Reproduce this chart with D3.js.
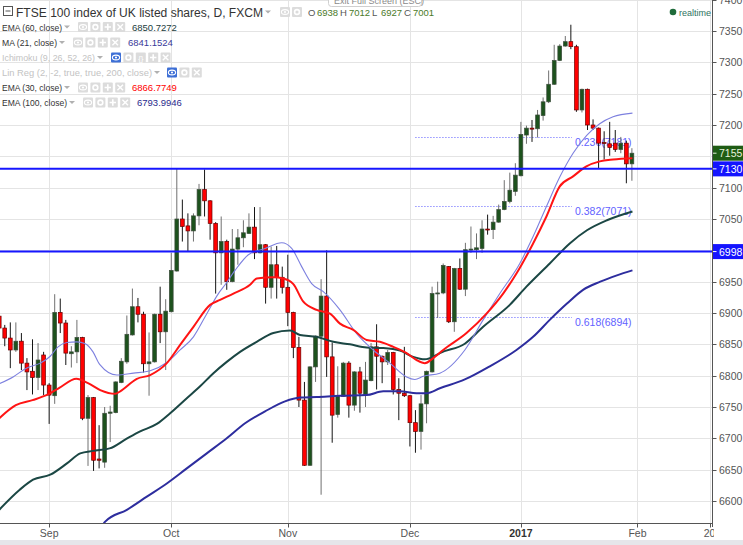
<!DOCTYPE html>
<html>
<head>
<meta charset="utf-8">
<script src="https://cdnjs.cloudflare.com/ajax/libs/d3/7.8.5/d3.min.js"></script>
<style>
  body { margin: 0; background: #fff; }
  svg { display: block; }
  text { font-family: "Liberation Sans", Arial, sans-serif; }
</style>
</head>
<body>
<svg id="chart"></svg>
<script>
// daily candles, FXCM FTSE 100, late Aug 2016 .. 31 Jan 2017 (index 0..114)
var opens = [6895,6876,6860,6841,6855,6820,6807,6797,6833,6785,6768,6901,6884,6835,6838,6861,6732,6765,6667,6662,
  6740,6741,6789,6822,6865,6910,6898,6819,6822,6898,6870,6902,6967,7050,7039,7031,7055,7097,7079,7043,
  6996,7014,6950,7002,7020,7027,7037,6996,7009,6941,6977,6957,6941,6901,6845,6761,6657,6814,6863,6927,
  6830,6738,6767,6820,6753,6806,6770,6792,6846,6831,6822,6837,6778,6772,6768,6725,6711,6755,6806,6931,
  6932,6974,6886,6971,6938,7001,7001,7003,7034,7033,7045,7065,7078,7094,7119,7184,7195,7194,7215,7237,
  7265,7303,7326,7333,7325,7224,7257,7200,7195,7172,7170,7171,7161,7171,7138];
var highs = [6902,6881,6885,6885,6868,6828,6858,6852,6838,6788,6930,6923,6889,6847,6889,6862,6769,6766,6721,6750,
  6752,6791,6828,6896,6939,6924,6902,6869,6899,6942,6922,6996,7131,7081,7059,7059,7106,7129,7080,7045,
  7054,7017,7034,7034,7048,7059,7069,7069,7010,7006,7007,6974,6993,6902,6862,6790,6815,6864,6954,7000,
  6853,6815,6822,6823,6807,6814,6822,6852,6882,6832,6841,6838,6796,6846,6769,6745,6769,6808,6942,6950,
  6979,6975,6972,6987,7012,7038,7027,7048,7057,7055,7073,7112,7124,7139,7205,7199,7208,7224,7244,7287,
  7328,7329,7342,7360,7328,7258,7258,7209,7196,7190,7205,7192,7181,7175,7163];
var lows = [6868,6847,6812,6838,6809,6777,6770,6777,6769,6723,6755,6868,6817,6813,6820,6729,6656,6648,6652,6653,
  6694,6740,6788,6819,6864,6885,6805,6768,6821,6852,6809,6901,6966,7014,6999,7014,7040,7054,7017,6931,
  6945,6937,6949,6977,7005,7026,6986,6995,6915,6923,6923,6931,6879,6828,6750,6656,6656,6790,6610,6798,
  6693,6733,6766,6733,6744,6741,6750,6791,6778,6788,6817,6770,6729,6766,6687,6677,6682,6724,6805,6892,
  6930,6884,6870,6937,6927,6996,6986,6996,7025,7018,7044,7064,7075,7087,7118,7170,7173,7180,7207,7235,
  7264,7302,7325,7321,7221,7220,7192,7192,7131,7145,7151,7157,7155,7107,7111];
var closes = [6876,6860,6841,6855,6820,6806,6797,6825,6785,6769,6901,6884,6836,6838,6861,6732,6765,6665,6665,6740,
  6742,6790,6823,6866,6910,6898,6819,6822,6898,6870,6903,6968,7050,7038,7031,7055,7097,7079,7043,6996,
  7014,6950,7002,7020,7028,7037,6996,7009,6941,6977,6957,6941,6901,6845,6761,6657,6814,6863,6927,6830,
  6737,6768,6820,6753,6806,6772,6793,6846,6831,6822,6837,6778,6772,6768,6725,6711,6755,6807,6931,6932,
  6976,6886,6971,6938,7001,7002,7004,7034,7033,7045,7065,7078,7096,7120,7185,7195,7194,7216,7237,7265,
  7303,7326,7333,7325,7224,7257,7200,7195,7171,7171,7164,7161,7171,7138,7155];

// indicator lines: [bar index, value]
var ema30Pts = [[0,6732],[3,6753],[6,6761],[8.8,6770],[10.9,6781],[13.9,6795],[16,6788],[18.2,6777],[20.9,6771],[21.8,6775],
  [24.8,6795],[27.2,6801],[30.2,6820],[32.6,6849],[35,6878],[38,6913],[39.8,6921],[42.2,6931],[45.2,6945],[46.4,6955],
  [49.4,6957],[51.2,6955],[53,6946],[54.8,6918],[57.2,6905],[59.6,6899],[61.4,6883],[63.8,6873],[66.2,6857],[68.6,6854],
  [71,6846],[73.4,6836],[75.2,6825],[76.7,6820],[78.2,6828],[80,6841],[84.2,6868],[87.8,6899],[90.8,6931],[93.2,6963],
  [96.2,7011],[98.6,7054],[101,7102],[103.4,7118],[105.8,7134],[108.2,7142],[110.6,7145],[114.1,7147]];
var ma21Pts = [[0,6787],[2.5,6798],[4.9,6812],[7.4,6820],[9.2,6831],[10.6,6846],[12.2,6853],[14,6854],[15.5,6851],[16.9,6838],
  [18.1,6818],[21.2,6801],[24.2,6804],[27.2,6808],[30.2,6821],[32.6,6841],[35,6862],[37.1,6894],[39.5,6931],[40.7,6945],
  [42.5,6968],[44.9,6993],[47.9,7003],[50.9,7012],[52.7,7003],[54.5,6974],[56.3,6947],[58.4,6934],[61.4,6905],[64.4,6867],
  [67.4,6841],[70.4,6820],[73.4,6798],[74.9,6794],[76.4,6799],[79.4,6804],[83.9,6841],[87.2,6889],[90.2,6931],[93.8,6979],
  [96.2,7022],[98.6,7070],[101,7117],[103.4,7155],[105.9,7184],[108.2,7202],[110.6,7213],[114.1,7219]];
var ema60Pts = [[0,6586],[3.7,6618],[6.1,6634],[9.2,6642],[12.2,6660],[14.6,6676],[16.9,6680],[19.9,6684],[22.9,6699],[25.4,6711],
  [28.4,6723],[30.8,6740],[33.8,6764],[36.2,6783],[38.6,6804],[41,6822],[43.4,6838],[46.4,6854],[49.4,6868],[52.4,6872],
  [54.2,6865],[57.2,6862],[60.2,6854],[63.2,6850],[66.2,6845],[69.2,6844],[72.2,6840],[74.6,6830],[76.7,6826],[78.2,6830],
  [79.4,6836],[83.9,6851],[87.2,6878],[92,6913],[95,6942],[99.2,6979],[102.8,7011],[105.9,7032],[109.5,7048],[114.1,7062]];
var ema100Pts = [[18.5,6560],[19.1,6567],[23,6586],[26.6,6607],[30.2,6628],[33.8,6652],[37.4,6676],[41,6700],[44.3,6724],[47.9,6743],
  [51.5,6759],[54.2,6765],[57.2,6766],[61.4,6768],[66.2,6769],[69.2,6775],[72.2,6775],[75.2,6772],[77,6772],[79.4,6780],
  [83.9,6794],[88.4,6815],[93.2,6841],[96.2,6862],[99.2,6889],[102.3,6915],[105.2,6937],[108.3,6950],[111.3,6960],[114.1,6968]];

var keyLevels = [7130, 6998];
var fibLevels = [7181, 7071, 6894];
var fibLabels = ["0.236(7181)", "0.382(7071)", "0.618(6894)"];
var fibFrom = 75, fibTo = 103.2;
var lastPrice = 7155;

var priceTicks = d3.range(6600, 7401, 50);
var monthLabels = ["Sep", "Oct", "Nov", "Dec", "2017", "Feb", "20"];
var monthIdx = [9, 31, 52, 74, 94, 115, 128];

var legendNames = ["EMA (60, close)", "MA (21, close)", "Ichimoku (9, 26, 52, 26)", "Lin Reg (2, -2, true, true, 200, close)", "EMA (30, close)", "EMA (100, close)"];
var legendValues = ["6850.7272", "6841.1524", "", "", "6866.7749", "6793.9946"];
var ohlcLabels = ["O", "H", "L", "C"];
var ohlcValues = ["6938", "7012", "6927", "7001"];

var width = 743, height = 545;
var plotW = 712, plotB = 523;

var svg = d3.select("#chart").attr("width", width).attr("height", height);
svg.append("rect").attr("width", width).attr("height", height).attr("fill", "#fff");

var x = d3.scaleLinear().domain([0, 128]).range([-0.8, -0.8 + 5.55 * 128]);
var y = d3.scaleLinear().domain([6600, 7350]).range([501, 31]);

svg.append("clipPath").attr("id", "plotClip")
    .append("rect").attr("width", plotW).attr("height", plotB);
svg.append("clipPath").attr("id", "axisClip")
    .append("rect").attr("width", 714).attr("height", height);

var plot = svg.append("g").attr("clip-path", "url(#plotClip)");

// grid
plot.selectAll("line.hgrid").data(priceTicks).enter().append("line")
    .attr("x1", 0).attr("x2", plotW)
    .attr("y1", d => Math.round(y(d)) + 0.5).attr("y2", d => Math.round(y(d)) + 0.5)
    .attr("stroke", "#e4e4e4");
plot.selectAll("line.vgrid").data(monthIdx).enter().append("line")
    .attr("x1", d => Math.round(x(d)) + 0.5).attr("x2", d => Math.round(x(d)) + 0.5)
    .attr("y1", 0).attr("y2", plotB)
    .attr("stroke", "#e4e4e4");

// fib levels
plot.selectAll("line.fib").data(fibLevels).enter().append("line")
    .attr("x1", x(fibFrom)).attr("x2", x(fibTo))
    .attr("y1", d => Math.round(y(d)) + 0.5).attr("y2", d => Math.round(y(d)) + 0.5)
    .attr("stroke", "#5a5aff").attr("stroke-dasharray", "1,2");
plot.selectAll("text.fib").data(fibLevels).enter().append("text")
    .attr("x", x(fibTo) + 3).attr("y", d => y(d) + 9)
    .attr("font-size", "10.5px").attr("fill", "#6262ff")
    .text((d, i) => fibLabels[i]);

// candles
var candles = opens.map(function (o, i) {
    return { i: i, o: o, h: highs[i], l: lows[i], c: closes[i], up: closes[i] >= o };
});
var cg = plot.append("g");
cg.selectAll("line.wick").data(candles).enter().append("line")
    .attr("x1", d => x(d.i)).attr("x2", d => x(d.i))
    .attr("y1", d => y(d.h)).attr("y2", d => y(d.l))
    .attr("stroke", d => d.up ? "#707070" : "#151515").attr("stroke-width", 1);
cg.selectAll("rect.body").data(candles).enter().append("rect")
    .attr("x", d => x(d.i) - 1.9).attr("width", 3.8)
    .attr("y", d => y(Math.max(d.o, d.c)))
    .attr("height", d => Math.max(1, Math.abs(y(d.o) - y(d.c))))
    .attr("fill", d => d.up ? "#1d521d" : "#ff0000")
    .attr("stroke", d => d.up ? "#3d4d3d" : "#6a0000").attr("stroke-width", 0.7);

// moving averages
var line = d3.line().x(d => x(d[0])).y(d => y(d[1])).curve(d3.curveMonotoneX);
plot.append("path").datum(ema100Pts).attr("d", line).attr("fill", "none").attr("stroke", "#2d2d9e").attr("stroke-width", 2);
plot.append("path").datum(ema60Pts).attr("d", line).attr("fill", "none").attr("stroke", "#1b4744").attr("stroke-width", 2);
plot.append("path").datum(ma21Pts).attr("d", line).attr("fill", "none").attr("stroke", "#7d80df").attr("stroke-width", 1.1);
plot.append("path").datum(ema30Pts).attr("d", line).attr("fill", "none").attr("stroke", "#ff1414").attr("stroke-width", 2);

// horizontal key levels
plot.selectAll("line.key").data(keyLevels).enter().append("line")
    .attr("x1", 0).attr("x2", plotW)
    .attr("y1", d => y(d)).attr("y2", d => y(d))
    .attr("stroke", "#1616ff").attr("stroke-width", 2);

// ---- header / legend
var hdr = svg.append("g");

function caret(g, cx, cy) {
    g.append("path").attr("d", "M" + (cx - 3) + "," + (cy - 1.5) + "L" + (cx + 3) + "," + (cy - 1.5) + "L" + cx + "," + (cy + 1.5) + "Z")
        .attr("fill", "#b0b0b0");
}
function iconBox(g, bx, by, kind, blue) {
    g.append("rect").attr("x", bx).attr("y", by).attr("width", 10).attr("height", 10).attr("rx", 1)
        .attr("fill", blue ? "#3d6fd6" : "#dcdcdc");
    var cx = bx + 5, cy = by + 5;
    if (kind == "eye") {
        g.append("ellipse").attr("cx", cx).attr("cy", cy).attr("rx", 3.6).attr("ry", 2.4)
            .attr("fill", "none").attr("stroke", "#fff").attr("stroke-width", 1.1);
        g.append("circle").attr("cx", cx).attr("cy", cy).attr("r", 1.1).attr("fill", "#fff");
    } else if (kind == "gear") {
        g.append("circle").attr("cx", cx).attr("cy", cy).attr("r", 2.4)
            .attr("fill", "none").attr("stroke", "#fff").attr("stroke-width", 1.6);
    } else if (kind == "plus") {
        g.append("path").attr("d", "M" + cx + "," + (cy - 3.2) + "V" + (cy + 3.2) + "M" + (cx - 3.2) + "," + cy + "H" + (cx + 3.2))
            .attr("stroke", "#fff").attr("stroke-width", 1.6);
    } else if (kind == "x") {
        g.append("path").attr("d", "M" + (cx - 2.8) + "," + (cy - 2.8) + "L" + (cx + 2.8) + "," + (cy + 2.8) + "M" + (cx + 2.8) + "," + (cy - 2.8) + "L" + (cx - 2.8) + "," + (cy + 2.8))
            .attr("stroke", "#fff").attr("stroke-width", 1.4);
    } else if (kind == "brace") {
        g.append("text").attr("x", cx).attr("y", cy + 3).attr("text-anchor", "middle")
            .attr("font-size", "8px").attr("fill", "#fff").text("{}");
    }
}

// title row
hdr.append("rect").attr("x", 3.5).attr("y", 6.5).attr("width", 9).attr("height", 9)
    .attr("fill", "none").attr("stroke", "#555");
hdr.append("line").attr("x1", 5.5).attr("x2", 10.5).attr("y1", 11).attr("y2", 11).attr("stroke", "#555");
hdr.append("text").attr("x", 16).attr("y", 16.5).attr("font-size", "12px").attr("fill", "#333")
    .attr("textLength", 247).attr("lengthAdjust", "spacingAndGlyphs")
    .text("FTSE 100 index of UK listed shares, D, FXCM");
caret(hdr, 268, 12);
iconBox(hdr, 280, 7, "eye", false);
iconBox(hdr, 292, 7, "gear", false);
var ohlcX = [308, 340, 372, 404];
ohlcLabels.forEach(function (lab, i) {
    hdr.append("text").attr("x", ohlcX[i]).attr("y", 16).attr("font-size", "9.5px").attr("fill", "#555").text(lab);
    hdr.append("text").attr("x", ohlcX[i] + 9).attr("y", 16).attr("font-size", "9.5px").attr("fill", "#4a7a28").text(ohlcValues[i]);
});

// exit full screen tooltip (cut at top)
hdr.append("rect").attr("x", 328.5).attr("y", -8.5).attr("width", 93).attr("height", 15).attr("rx", 3)
    .attr("fill", "#fff").attr("stroke", "#cfcfcf");
hdr.append("text").attr("x", 334).attr("y", 4).attr("font-size", "9px").attr("fill", "#8a8a8a").text("Exit Full Screen (ESC)");

// realtime marker
hdr.append("circle").attr("cx", 673).attr("cy", 12).attr("r", 3.3).attr("fill", "#1e6b3a");
hdr.append("text").attr("x", 679).attr("y", 15.5).attr("font-size", "9px").attr("fill", "#2e7260").text("realtime");

// study legend rows
var rowY = [27, 42.5, 57.5, 72.5, 87.5, 102.5];
var nameLen = [60, 55, 93, 150, 60, 65];
var valColor = ["#1b3c3c", "#3a3a9a", null, null, "#ff0000", "#2a2a8c"];
var iconSets = [
    [["eye", 0], ["gear", 0], ["plus", 0], ["x", 0]],
    [["eye", 0], ["gear", 0], ["plus", 0], ["x", 0]],
    [["eye", 1], ["gear", 0], ["brace", 0], ["plus", 0], ["x", 0]],
    [["eye", 1], ["gear", 0], ["x", 0]],
    [["eye", 0], ["gear", 0], ["plus", 0], ["x", 0]],
    [["eye", 0], ["gear", 0], ["plus", 0], ["x", 0]]
];
var iconStart = [78, 73, 111, 167, 78, 83];
var valX = [132, 128, 0, 0, 132, 137];
legendNames.forEach(function (nm, i) {
    var cy = rowY[i];
    var faded = legendValues[i] === "";
    hdr.append("text").attr("x", 2).attr("y", cy + 3.5).attr("font-size", "9.5px")
        .attr("fill", faded ? "#c3c3c3" : "#333")
        .attr("textLength", nameLen[i]).attr("lengthAdjust", "spacingAndGlyphs").text(nm);
    caret(hdr, nameLen[i] + 7, cy);
    iconSets[i].forEach(function (ic, k) {
        iconBox(hdr, iconStart[i] + k * 12.4, cy - 5, ic[0], ic[1] == 1);
    });
    if (!faded) {
        hdr.append("text").attr("x", valX[i]).attr("y", cy + 3.5).attr("font-size", "9.5px")
            .attr("fill", valColor[i]).text(legendValues[i]);
    }
});

// ---- right price axis
var tagPrices = [lastPrice].concat(keyLevels);
var ax = svg.append("g");
ax.append("line").attr("x1", plotW + 0.5).attr("x2", plotW + 0.5).attr("y1", 0).attr("y2", plotB + 4)
    .attr("stroke", "#555");
ax.selectAll("line.ptick").data(priceTicks).enter().append("line")
    .attr("x1", plotW + 0.5).attr("x2", plotW + 4.5)
    .attr("y1", d => Math.round(y(d)) + 0.5).attr("y2", d => Math.round(y(d)) + 0.5)
    .attr("stroke", "#555");
// labels hidden behind a price tag are not drawn
var visTicks = priceTicks.filter(p => tagPrices.every(t => Math.abs(y(p) - y(t)) > 10));
ax.selectAll("text.plab").data(visTicks).enter().append("text")
    .attr("x", 719).attr("y", d => y(d) + 4)
    .attr("font-size", "10.5px").attr("fill", "#555")
    .text(d => d);

// price tags
var tags = [[lastPrice, "#1f5c14", "#e6f2dc"], [keyLevels[0], "#1414ff", "#fff"], [keyLevels[1], "#1414ff", "#fff"]];
tags.forEach(function (t) {
    var ty = y(t[0]);
    ax.append("rect").attr("x", plotW + 1).attr("y", ty - 7.5).attr("width", width - plotW - 1).attr("height", 15)
        .attr("fill", t[1]);
    ax.append("line").attr("x1", plotW + 1).attr("x2", plotW + 4.5).attr("y1", ty).attr("y2", ty).attr("stroke", t[2]);
    ax.append("text").attr("x", 719).attr("y", ty + 4).attr("font-size", "10.5px").attr("fill", t[2]).text(t[0]);
});

// ---- bottom time axis
var bx = svg.append("g");
bx.append("line").attr("x1", 0).attr("x2", plotW + 1).attr("y1", plotB + 0.5).attr("y2", plotB + 0.5).attr("stroke", "#555");
bx.selectAll("line.ttick").data(monthIdx).enter().append("line")
    .attr("x1", d => Math.round(x(d)) + 0.5).attr("x2", d => Math.round(x(d)) + 0.5)
    .attr("y1", plotB).attr("y2", plotB + 4.5).attr("stroke", "#555");
bx.append("g").attr("clip-path", "url(#axisClip)")
    .selectAll("text").data(monthIdx).enter().append("text")
    .attr("x", d => x(d)).attr("y", plotB + 14).attr("text-anchor", "middle")
    .attr("font-size", "10.5px")
    .attr("font-weight", (d, i) => monthLabels[i] == "2017" ? "bold" : "normal")
    .attr("fill", (d, i) => monthLabels[i] == "2017" ? "#333" : "#555")
    .text((d, i) => monthLabels[i]);

// scroll strip at the bottom
svg.append("rect").attr("x", 0).attr("y", 540).attr("width", width).attr("height", 5).attr("fill", "#e6e6ea");
</script>
</body>
</html>
